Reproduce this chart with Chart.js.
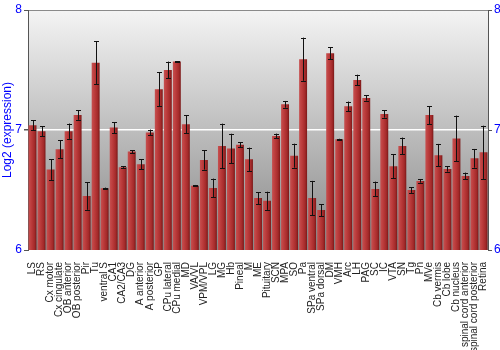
<!DOCTYPE html>
<html>
<head>
<meta charset="utf-8">
<script src="https://cdn.jsdelivr.net/npm/chart.js@4/dist/chart.umd.min.js"></script>
<style>
html,body{margin:0;padding:0;background:#fff;}
#wrap{width:500px;height:350px;}
</style>
</head>
<body>
<div id="wrap"><canvas id="c" width="500" height="350"></canvas></div>
<script>
const categories = ["LS","RS","Cx motor","Cx cingulate","OB anterior","OB posterior","Pir","Tu","ventral S","CA1","CA2/CA3","DG","A anterior","A posterior","GP","CPu lateral","CPu medial","MD","VA/VL","VPM/VPL","LG","MG","Hb","Pineal","M","ME","Pituitary","SCN","MPA","SO","Pa","SPa ventral","SPa dorsal","DM","VMH","Arc","LH","PAG","SC","IC","VTA","SN","Tg","Pn","MVe","Cb vermis","Cb lobe","Cb nucleus","spinal cord anterior","spinal cord posterior","Retina"];
const values = [7.04,6.99,6.67,6.84,6.99,7.125,6.45,7.56,6.515,7.02,6.69,6.82,6.715,6.98,7.34,7.50,7.57,7.047,6.536,6.75,6.517,6.867,6.845,6.878,6.756,6.433,6.41,6.95,7.214,6.786,7.59,6.433,6.333,7.64,6.922,7.197,7.417,7.267,6.508,7.133,6.697,6.867,6.5,6.575,7.125,6.79,6.675,6.93,6.617,6.764,6.814];
const errors = [0.04,0.04,0.086,0.075,0.064,0.04,0.115,0.18,0.005,0.046,0.006,0.012,0.042,0.024,0.143,0.07,0.005,0.076,0.006,0.08,0.078,0.186,0.124,0.022,0.097,0.05,0.076,0.02,0.028,0.1,0.18,0.143,0.05,0.05,0.005,0.04,0.044,0.022,0.062,0.03,0.1,0.07,0.024,0.014,0.075,0.094,0.022,0.19,0.028,0.078,0.222];
const yTicks = [6,7,8];
const yTitle = "Log2 (expression)";

Chart.defaults.font.family = "'Liberation Sans', Arial, sans-serif";

const BAR_PCT = 0.88;

const bgPlugin = {
  id: 'bg',
  beforeDraw(chart) {
    const {ctx, chartArea: a} = chart;
    const g = ctx.createLinearGradient(0, a.top, 0, a.bottom);
    g.addColorStop(0, '#f4f4f4');
    g.addColorStop(1, '#878787');
    ctx.save();
    ctx.fillStyle = g;
    ctx.fillRect(a.left, a.top, a.right - a.left, a.bottom - a.top);
    ctx.restore();
  }
};

const errPlugin = {
  id: 'err',
  afterDatasetsDraw(chart) {
    const {ctx} = chart;
    const xs = chart.scales.x, ys = chart.scales.y;
    ctx.save();
    ctx.strokeStyle = '#111';
    ctx.lineWidth = 1;
    values.forEach((v, i) => {
      const x = Math.round(xs.getPixelForValue(i)) + 0.5;
      const y1 = ys.getPixelForValue(v + errors[i]);
      const y2 = ys.getPixelForValue(v - errors[i]);
      ctx.beginPath();
      ctx.moveTo(x, y1); ctx.lineTo(x, y2);
      ctx.moveTo(x - 2.5, Math.round(y1) + 0.5); ctx.lineTo(x + 2.5, Math.round(y1) + 0.5);
      ctx.moveTo(x - 2.5, Math.round(y2) + 0.5); ctx.lineTo(x + 2.5, Math.round(y2) + 0.5);
      ctx.stroke();
    });
    ctx.restore();
  }
};

function barColor(c) {
  if (c.type !== 'data') return '#b03030';
  const chart = c.chart;
  const xs = chart.scales.x;
  if (!xs || !chart.chartArea) return '#b03030';
  const cx = xs.getPixelForValue(c.dataIndex);
  const hw = (xs.width / categories.length) * BAR_PCT / 2;
  const g = chart.ctx.createLinearGradient(cx - hw, 0, cx + hw, 0);
  g.addColorStop(0, '#c65050');
  g.addColorStop(0.35, '#bc3c3c');
  g.addColorStop(0.75, '#a42a2a');
  g.addColorStop(1, '#7a1818');
  return g;
}

const tickCfg = {
  stepSize: 1,
  color: '#0000ff',
  font: {size: 12},
  padding: 2,
  callback: (v) => yTicks.includes(v) ? String(v) : ''
};

new Chart(document.getElementById('c'), {
  type: 'bar',
  data: {
    labels: categories,
    datasets: [{
      data: values,
      backgroundColor: barColor,
      borderWidth: 0,
      barPercentage: BAR_PCT,
      categoryPercentage: 1,
      yAxisID: 'y'
    }]
  },
  options: {
    responsive: false,
    animation: false,
    events: [],
    layout: {padding: {top: 10, left: 0, right: 0, bottom: 0}},
    plugins: {legend: {display: false}, tooltip: {enabled: false}},
    scales: {
      x: {
        grid: {display: false},
        border: {display: false},
        ticks: {
          minRotation: 90, maxRotation: 90, autoSkip: false,
          color: '#222', font: {size: 10}, padding: 4
        },
        afterFit(s) { s.height = 100; }
      },
      y: {
        position: 'left',
        min: 6, max: 8,
        ticks: tickCfg,
        grid: {
          color: (c) => c.tick.value === 7 ? '#ffffff' : (c.tick.value === 8 ? '#8a8a8a' : 'rgba(0,0,0,0)'),
          tickColor: '#555',
          tickLength: 4,
          lineWidth: (c) => c.tick.value === 7 ? 1.5 : 1
        },
        border: {color: '#555'},
        title: {display: true, text: yTitle, color: '#0000ff', font: {size: 12}, padding: 0},
        afterFit(s) { s.width = 28; }
      },
      y2: {
        position: 'right',
        min: 6, max: 8,
        ticks: tickCfg,
        grid: {drawOnChartArea: false, tickColor: '#555', tickLength: 4},
        border: {color: '#555'},
        afterFit(s) { s.width = 12; }
      }
    }
  },
  plugins: [bgPlugin, errPlugin]
});
</script>
</body>
</html>
